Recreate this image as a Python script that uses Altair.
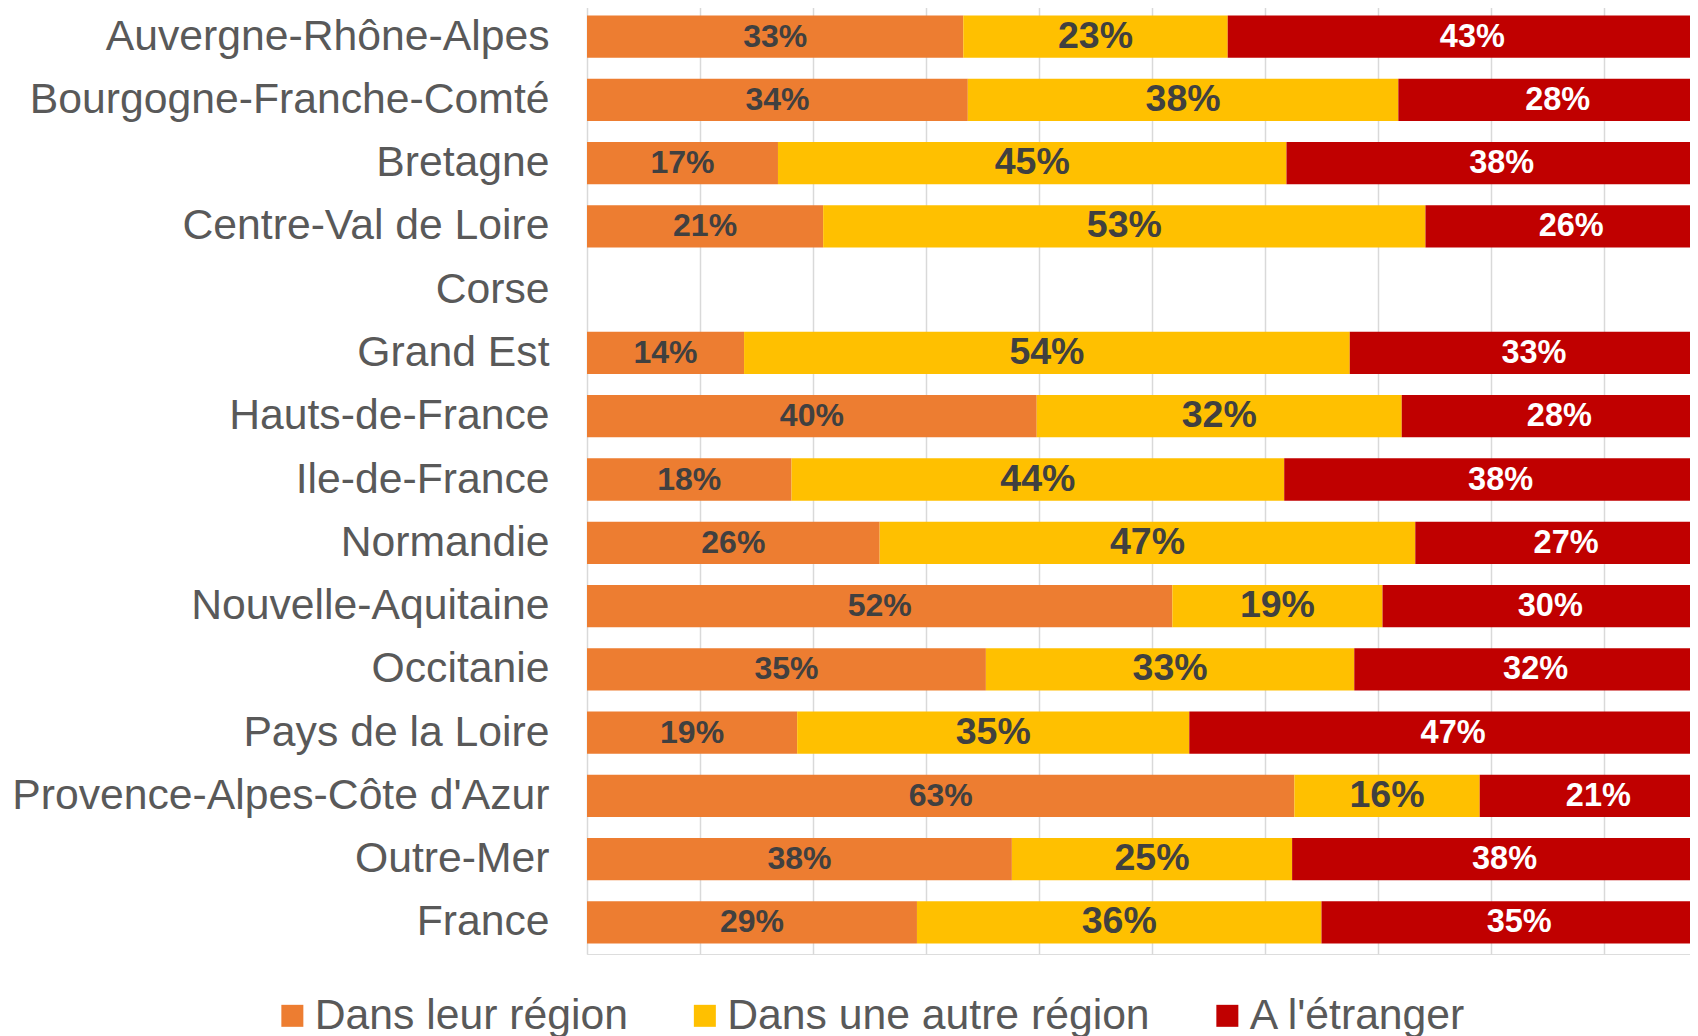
import altair as alt
import pandas as pd

regions = [
    "Auvergne-Rhône-Alpes",
    "Bourgogne-Franche-Comté",
    "Bretagne",
    "Centre-Val de Loire",
    "Corse",
    "Grand Est\u00a0",
    "Hauts-de-France",
    "Ile-de-France",
    "Normandie\u00a0",
    "Nouvelle-Aquitaine\u00a0",
    "Occitanie\u00a0",
    "Pays de la Loire",
    "Provence-Alpes-Côte d'Azur",
    "Outre-Mer\u00a0",
    "France",
]
series = ["Dans leur région", "Dans une autre région", "A l'étranger"]
colors = ["#ED7D31", "#FFC000", "#C00000"]
text_colors = ["#404040", "#404040", "#FFFFFF"]
text_sizes = [32, 37.5, 32.5]

dans_region = [0.333, 0.337, 0.169, 0.209, None, 0.139, 0.398, 0.181, 0.259, 0.518, 0.353, 0.186, 0.626, 0.376, 0.292]
autre_region = [0.234, 0.381, 0.450, 0.533, None, 0.536, 0.323, 0.436, 0.474, 0.186, 0.326, 0.347, 0.164, 0.248, 0.358]
etranger = [0.433, 0.282, 0.381, 0.258, None, 0.326, 0.279, 0.383, 0.267, 0.297, 0.321, 0.467, 0.210, 0.376, 0.350]

rows = []
for i, r in enumerate(regions):
    for k, vals in enumerate([dans_region, autre_region, etranger]):
        if vals[i] is not None:
            rows.append({"region": r, "series": series[k], "order": k, "value": vals[i]})
df = pd.DataFrame(rows)

FONT = "Liberation Sans"
PLOT_W = 1103
XMAX = PLOT_W / 1130

base = alt.Chart(df).transform_stack(
    stack="value", groupby=["region"], as_=["x0", "x1"],
    sort=[alt.SortField("order", order="ascending")],
).transform_calculate(mid="(datum.x0 + datum.x1) / 2")

y_enc = alt.Y(
    "region:N",
    sort=regions,
    scale=alt.Scale(domain=regions, paddingInner=0.332, paddingOuter=0.166),
    axis=alt.Axis(
        title=None, ticks=False, domain=False, labelFont=FONT, labelFontSize=42.7,
        labelColor="#595959", labelPadding=38, labelLimit=0,
    ),
)

x_scale = alt.Scale(domain=[0, XMAX], nice=False, zero=True)

bars = base.mark_bar(clip=True).encode(
    x=alt.X(
        "x0:Q",
        scale=x_scale,
        axis=alt.Axis(
            title=None, labels=False, ticks=False, domain=False, grid=True,
            gridColor="#d9d9d9", gridWidth=1.5,
            values=[0, 0.1, 0.2, 0.3, 0.4, 0.5, 0.6, 0.7, 0.8, 0.9],
        ),
    ),
    x2="x1:Q",
    y=y_enc,
    color=alt.Color(
        "series:N",
        scale=alt.Scale(domain=series, range=colors),
        legend=alt.Legend(
            orient="none", legendX=-316, legendY=989, direction="horizontal",
            title=None, symbolType="square", symbolSize=484, symbolStrokeWidth=0,
            symbolOpacity=1, labelFontSize=42.7, labelFont=FONT, labelColor="#595959",
            labelOffset=1, columnPadding=55.5, labelLimit=0, padding=0,
        ),
    ),
)

layers = [bars]
for k, s in enumerate(series):
    layers.append(
        base.transform_filter(alt.datum.series == s).mark_text(
            font=FONT, fontWeight="bold", baseline="middle", align="center",
            color=text_colors[k], fontSize=text_sizes[k],
        ).encode(
            x=alt.X("mid:Q", scale=x_scale),
            y=y_enc,
            text=alt.Text("value:Q", format=".0%"),
        )
    )

chart = alt.layer(*layers).properties(
    width=PLOT_W,
    height=949,
    autosize=alt.AutoSizeParams(type="none"),
    padding={"left": 579, "top": -3, "right": 0, "bottom": 82},
).configure_view(stroke=None).configure(background="white")

chart.save("out.html", embed_options={"renderer": "svg", "actions": False})
